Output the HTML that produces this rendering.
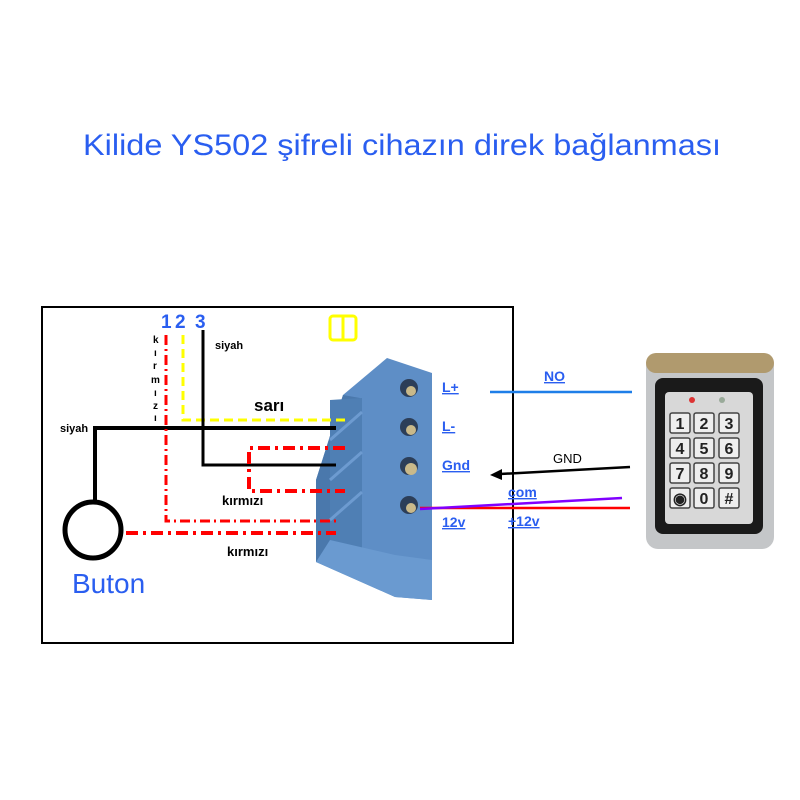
<!DOCTYPE html>
<html><head><meta charset="utf-8"><style>
body{margin:0;background:#fff}
svg{display:block}
text{font-family:"Liberation Sans",sans-serif}
</style></head><body>
<svg width="800" height="800" viewBox="0 0 800 800">
<text x="402" y="155" text-anchor="middle" font-size="30" fill="#2a5ef0" textLength="638" lengthAdjust="spacingAndGlyphs">Kilide YS502 şifreli cihazın direk bağlanması</text>
<rect x="42" y="307" width="471" height="336" fill="none" stroke="#000" stroke-width="2"/>
<!-- connector -->
<polygon points="343,395 387,358 432,373 432,600 395,597 316,562 316,480" fill="#5e8ec6"/>
<polygon points="316,480 343,395 360,398 332,488 330,562 316,562" fill="#4a78ac"/>
<polygon points="330,400 362,398 362,560 330,545" fill="#4f7fb4"/>
<line x1="330" y1="440" x2="362" y2="412" stroke="#6d9bd0" stroke-width="3"/>
<line x1="330" y1="480" x2="362" y2="452" stroke="#6d9bd0" stroke-width="3"/>
<line x1="330" y1="520" x2="362" y2="492" stroke="#6d9bd0" stroke-width="3"/>
<polygon points="316,562 395,597 432,600 432,560 395,555 330,540" fill="#6a9ad0"/>
<g fill="#2c3e58"><circle cx="409" cy="388" r="9"/><circle cx="409" cy="427" r="9"/><circle cx="409" cy="466" r="9"/><circle cx="409" cy="505" r="9"/></g>
<g fill="#c9b98a"><circle cx="411" cy="391" r="5"/><circle cx="411" cy="430" r="5"/><circle cx="411" cy="469" r="6"/><circle cx="411" cy="508" r="5"/></g>
<!-- wires -->
<polyline points="95,500 95,428 336,428" fill="none" stroke="#000" stroke-width="4"/>
<circle cx="93" cy="530" r="28" fill="none" stroke="#000" stroke-width="5"/>
<polyline points="166,335 166,521 336,521" fill="none" stroke="#f00" stroke-width="3" stroke-dasharray="10,4,2,4"/>
<line x1="126" y1="533" x2="336" y2="533" stroke="#f00" stroke-width="4" stroke-dasharray="12,5,3,5"/>
<polyline points="183,335 183,420 345,420" fill="none" stroke="#ff0" stroke-width="3" stroke-dasharray="9,5"/>
<polyline points="203,330 203,465 336,465" fill="none" stroke="#000" stroke-width="3"/>
<polyline points="345,448 249,448 249,491 345,491" fill="none" stroke="#f00" stroke-width="4" stroke-dasharray="12,5,3,5"/>
<!-- labels -->
<g font-weight="bold" fill="#000" font-size="11">
<text x="60" y="432">siyah</text><text x="215" y="349">siyah</text>
<text x="222" y="505" font-size="13">kırmızı</text><text x="227" y="556" font-size="13">kırmızı</text>
<text x="254" y="411" font-size="17">sarı</text>
<text x="153" y="343" font-size="10">k</text><text x="154" y="356" font-size="10">ı</text><text x="153" y="369" font-size="10">r</text><text x="151" y="383" font-size="10">m</text><text x="154" y="396" font-size="10">ı</text><text x="153" y="409" font-size="10">z</text><text x="154" y="421" font-size="10">ı</text>
</g>
<g font-weight="bold" fill="#2a5ef0" font-size="19"><text x="161" y="328">1</text><text x="175" y="328">2</text><text x="195" y="328">3</text></g>
<rect x="330" y="316" width="26" height="24" rx="3" fill="none" stroke="#ff0" stroke-width="3"/>
<line x1="343" y1="316" x2="343" y2="340" stroke="#ff0" stroke-width="3"/>
<text x="72" y="593" font-size="28" fill="#2a5ef0">Buton</text>
<g fill="#2a5ef0" font-size="14" font-weight="bold" text-decoration="underline">
<text x="442" y="392">L+</text><text x="442" y="431">L-</text><text x="442" y="470">Gnd</text><text x="442" y="527">12v</text>
<text x="544" y="381">NO</text><text x="508" y="497">com</text><text x="508" y="526">+12v</text>
</g>
<line x1="490" y1="392" x2="632" y2="392" stroke="#1e7ee8" stroke-width="2.5"/>
<line x1="630" y1="467" x2="500" y2="474" stroke="#000" stroke-width="2.5"/>
<polygon points="490,475 502,469 502,480" fill="#000"/>
<text x="553" y="463" font-size="13" fill="#000">GND</text>
<line x1="420" y1="508" x2="630" y2="508" stroke="#f00" stroke-width="2.5"/>
<line x1="420" y1="509" x2="622" y2="498" stroke="#8000ff" stroke-width="2.5"/>
<!-- keypad -->
<rect x="646" y="353" width="128" height="196" rx="12" fill="#c4c6c8"/>
<rect x="646" y="353" width="128" height="20" rx="10" fill="#b09a6e"/>
<rect x="655" y="378" width="108" height="156" rx="8" fill="#1a1a1a"/>
<rect x="665" y="392" width="88" height="132" rx="4" fill="#d8d8d8"/>
<circle cx="692" cy="400" r="3" fill="#d33"/><circle cx="722" cy="400" r="3" fill="#9a9"/>
<g font-size="16" font-weight="bold" fill="#222" text-anchor="middle">
<g fill="#eee" stroke="#444" stroke-width="1.5">
<rect x="670" y="413" width="20" height="20" rx="2"/><rect x="694" y="413" width="20" height="20" rx="2"/><rect x="719" y="413" width="20" height="20" rx="2"/>
<rect x="670" y="438" width="20" height="20" rx="2"/><rect x="694" y="438" width="20" height="20" rx="2"/><rect x="719" y="438" width="20" height="20" rx="2"/>
<rect x="670" y="463" width="20" height="20" rx="2"/><rect x="694" y="463" width="20" height="20" rx="2"/><rect x="719" y="463" width="20" height="20" rx="2"/>
<rect x="670" y="488" width="20" height="20" rx="2"/><rect x="694" y="488" width="20" height="20" rx="2"/><rect x="719" y="488" width="20" height="20" rx="2"/>
</g>
<text x="680" y="429">1</text><text x="704" y="429">2</text><text x="729" y="429">3</text>
<text x="680" y="454">4</text><text x="704" y="454">5</text><text x="729" y="454">6</text>
<text x="680" y="479">7</text><text x="704" y="479">8</text><text x="729" y="479">9</text>
<text x="680" y="504">&#9673;</text><text x="704" y="504">0</text><text x="729" y="504">#</text>
</g>
</svg>
</body></html>
